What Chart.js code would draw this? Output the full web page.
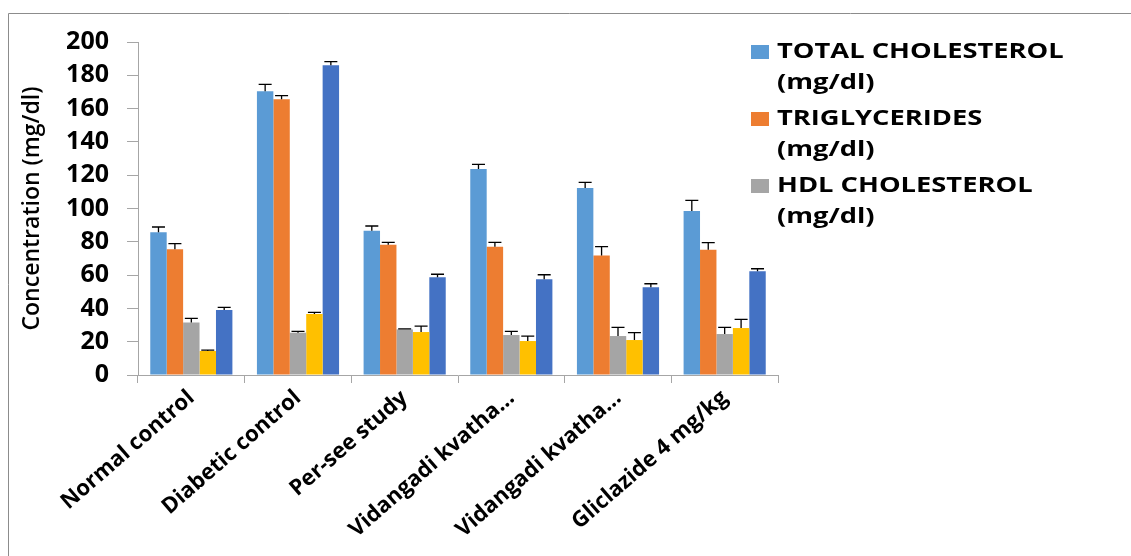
<!DOCTYPE html>
<html>
<head>
<meta charset="utf-8">
<script src="https://cdn.jsdelivr.net/npm/chart.js@4.4.0/dist/chart.umd.min.js"></script>
<style>
  html, body { margin: 0; padding: 0; background: #ffffff; }
  #wrap { position: relative; width: 1131px; height: 556px; }
  canvas { display: block; }
</style>
</head>
<body>
<div id="wrap"><canvas id="c" width="1131" height="556"></canvas></div>
<script>
const categories = ["Normal control", "Diabetic control", "Per-see study", "Vidangadi kvatha...", "Vidangadi kvatha...", "Gliclazide 4 mg/kg"];
const seriesNames = ["TOTAL CHOLESTEROL (mg/dl)", "TRIGLYCERIDES (mg/dl)", "HDL CHOLESTEROL (mg/dl)", "VLDL CHOLESTEROL (mg/dl)", "LDL CHOLESTEROL (mg/dl)"];
const legendLines = [["TOTAL CHOLESTEROL", "(mg/dl)"], ["TRIGLYCERIDES", "(mg/dl)"], ["HDL CHOLESTEROL", "(mg/dl)"]];
const totalCholesterol = [85.7, 170.4, 86.7, 123.7, 112.3, 98.5];
const triglycerides    = [75.5, 165.6, 78.3, 77.1, 71.7, 75.3];
const hdlCholesterol   = [31.6, 25.4, 27.4, 24.0, 23.4, 24.6];
const vldlCholesterol  = [14.4, 36.6, 25.8, 20.4, 21.0, 28.2];
const ldlCholesterol   = [39.0, 186.0, 58.7, 57.5, 52.7, 62.3];
const errTotal = [3.2, 4.2, 2.8, 2.8, 3.4, 6.4];
const errTG    = [3.4, 2.2, 1.4, 2.6, 5.4, 4.2];
const errHDL   = [2.4, 0.8, 0.3, 2.2, 5.2, 4.0];
const errVLDL  = [0.6, 1.0, 3.6, 3.0, 4.4, 5.2];
const errLDL   = [1.6, 2.2, 1.8, 2.7, 2.1, 1.5];
const yTicks = [0, 20, 40, 60, 80, 100, 120, 140, 160, 180, 200];
const colors = ["#5B9BD5", "#ED7D31", "#A5A5A5", "#FFC000", "#4472C4"];

const values = [totalCholesterol, triglycerides, hdlCholesterol, vldlCholesterol, ldlCholesterol];
const errors = [errTotal, errTG, errHDL, errVLDL, errLDL];

const frame = {
  id: 'frame',
  beforeDraw(chart) {
    const ctx = chart.ctx;
    ctx.save();
    ctx.strokeStyle = '#8c8c8c';
    ctx.lineWidth = 1;
    ctx.beginPath();
    ctx.moveTo(8.5, 556);
    ctx.lineTo(8.5, 13.5);
    ctx.lineTo(1131, 13.5);
    ctx.stroke();
    ctx.restore();
  }
};

const errorBars = {
  id: 'errorBars',
  afterDatasetsDraw(chart) {
    const ctx = chart.ctx;
    const ys = chart.scales.y;
    ctx.save();
    ctx.strokeStyle = '#000000';
    ctx.lineWidth = 1.3;
    chart.data.datasets.forEach((ds, i) => {
      const meta = chart.getDatasetMeta(i);
      meta.data.forEach((el, j) => {
        const v = ds.data[j];
        const e = errors[i][j];
        const top = ys.getPixelForValue(v + e);
        const half = 6.5;
        ctx.beginPath();
        ctx.moveTo(el.x, el.y);
        ctx.lineTo(el.x, top);
        ctx.moveTo(el.x - half, top);
        ctx.lineTo(el.x + half, top);
        ctx.stroke();
      });
    });
    ctx.restore();
  }
};

const customLegend = {
  id: 'customLegend',
  afterDraw(chart) {
    const ctx = chart.ctx;
    ctx.save();
    ctx.font = 'bold 21px "Open Sans"';
    ctx.textBaseline = 'middle';
    legendLines.forEach((lines, i) => {
      const y0 = 52 + i * 67;
      ctx.fillStyle = colors[i];
      ctx.fillRect(751, y0 - 7, 18, 14);
      ctx.fillStyle = '#000000';
      lines.forEach((t, k) => {
        ctx.save();
        ctx.translate(777, y0 + k * 31);
        ctx.scale(1.3, 1);
        ctx.fillText(t, 0, 0);
        ctx.restore();
      });
    });
    ctx.restore();
  }
};

new Chart(document.getElementById('c'), {
  type: 'bar',
  data: {
    labels: categories,
    datasets: seriesNames.map((n, i) => ({
      label: n,
      data: values[i],
      backgroundColor: colors[i],
      borderWidth: 0,
      categoryPercentage: 0.77,
      barPercentage: 1.0
    }))
  },
  options: {
    responsive: false,
    animation: false,
    devicePixelRatio: 1,
    layout: { padding: { top: 42, right: 353, left: 0, bottom: 0 } },
    plugins: {
      legend: { display: false },
      tooltip: { enabled: false }
    },
    scales: {
      x: {
        grid: { display: true, drawOnChartArea: false, tickLength: 8, color: '#a6a6a6', offset: true },
        border: { color: '#a6a6a6', width: 1 },
        ticks: {
          autoSkip: false, maxRotation: 41, minRotation: 41, padding: 2,
          color: '#000000', font: { family: '"Open Sans"', weight: 'bold', size: 22 }
        },
        afterFit(scale) { scale.height = 181; }
      },
      y: {
        min: 0, max: 200,
        afterBuildTicks(scale) { scale.ticks = yTicks.map(v => ({ value: v })); },
        grid: { display: true, drawOnChartArea: false, tickLength: 11, color: '#a6a6a6' },
        border: { color: '#a6a6a6', width: 1 },
        ticks: {
          padding: 18, color: '#000000',
          font: { family: '"Open Sans"', weight: 'bold', size: 25 }
        },
        title: {
          display: true, text: 'Concentration (mg/dl)', color: '#000000',
          font: { family: '"Open Sans"', weight: '600', size: 23 }, padding: { top: 19, bottom: 0 }
        },
        afterFit(scale) { scale.width = 138; }
      }
    }
  },
  plugins: [frame, errorBars, customLegend]
});
</script>
</body>
</html>
